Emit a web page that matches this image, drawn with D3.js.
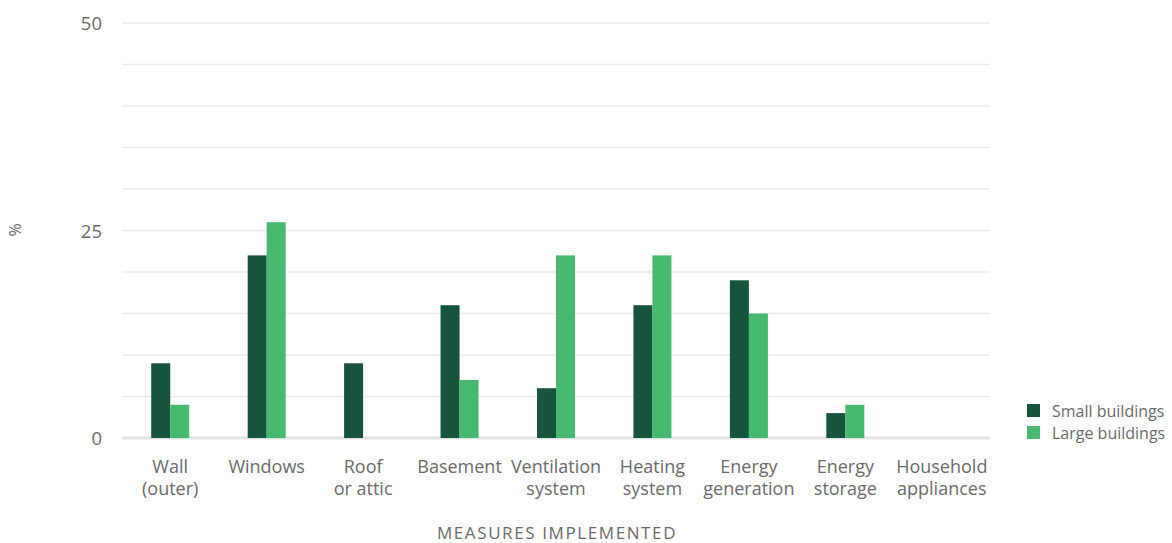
<!DOCTYPE html>
<html><head><meta charset="utf-8">
<script src="https://cdn.jsdelivr.net/npm/d3@7"></script>
<style>
body{margin:0;background:#fff;}
text{font-family:"Open Sans",sans-serif;fill:#6a6a6a;}
</style></head>
<body><svg id="c" width="1172" height="543"></svg>
<script>
const categories = [["Wall","(outer)"],["Windows"],["Roof","or attic"],["Basement"],["Ventilation","system"],["Heating","system"],["Energy","generation"],["Energy","storage"],["Household","appliances"]];
const seriesNames = ["Small buildings","Large buildings"];
const smallBuildings = [9,22,9,16,6,16,19,3,0];
const largeBuildings = [4,26,0,7,22,22,15,4,0];
const yTickLabels = [0,25,50];
const gridValues = [0,5,10,15,20,25,30,35,40,45,50];
const colors = ["#16543b","#46b96f"];

const svg = d3.select("#c");
const L = 122, R = 990, T = 23, B = 438;
const x = d3.scaleBand().domain(d3.range(categories.length)).range([L,R]);
const y = d3.scaleLinear().domain([0,50]).range([B,T]);
const barW = 19;

svg.append("g").selectAll("line").data(gridValues).join("line")
  .attr("x1",L).attr("x2",R).attr("y1",d=>y(d)).attr("y2",d=>y(d))
  .attr("stroke",d=>d===0?"#e3e3e3":"#ebebeb").attr("stroke-width",d=>d===0?3:1.5);

svg.append("g").selectAll("text").data(yTickLabels).join("text")
  .attr("x",102).attr("y",d=>y(d)+7).attr("text-anchor","end")
  .attr("font-size",18.5).text(d=>d);

const series = [smallBuildings,largeBuildings];
series.forEach((vals,si)=>{
  svg.append("g").selectAll("rect").data(vals).join("rect")
    .attr("x",(d,i)=>x(i)+x.bandwidth()/2 - barW + si*barW)
    .attr("width",barW)
    .attr("y",d=>y(d)).attr("height",d=>B-y(d))
    .attr("fill",colors[si]);
});

const lab = svg.append("g").selectAll("text").data(categories).join("text")
  .attr("text-anchor","middle").attr("font-size",18)
  .attr("x",(d,i)=>x(i)+x.bandwidth()/2).attr("y",473);
lab.selectAll("tspan").data(d=>d).join("tspan")
  .attr("x",function(){return this.parentNode.getAttribute("x");})
  .attr("dy",(d,i)=>i===0?0:22).text(d=>d);

svg.append("text").attr("x",557).attr("y",539).attr("text-anchor","middle")
  .attr("font-size",17).attr("letter-spacing",1.6).text("MEASURES IMPLEMENTED");

svg.append("text").attr("transform","translate(21,230) rotate(-90)")
  .attr("text-anchor","middle").attr("font-size",16).text("%");

const lg = svg.append("g").selectAll("g").data(seriesNames).join("g")
  .attr("transform",(d,i)=>`translate(1027,${404+i*22})`);
lg.append("rect").attr("width",13).attr("height",13).attr("fill",(d,i)=>colors[i]);
lg.append("text").attr("x",25).attr("y",12.5).attr("font-size",16).text(d=>d);
</script></body></html>
